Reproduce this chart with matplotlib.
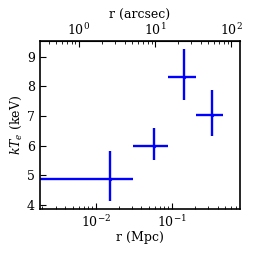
import numpy as np
import matplotlib
matplotlib.use("Agg")
import matplotlib.pyplot as plt
from matplotlib.ticker import LogLocator, NullFormatter

plt.rcParams['font.family'] = 'DejaVu Serif'
plt.rcParams['mathtext.fontset'] = 'dejavuserif'
plt.rcParams['font.size'] = 9

# radial bins (Mpc) and temperatures (keV)
r_mid = [0.0154, 0.059, 0.147, 0.336]
r_lo = [0.001, 0.0313, 0.088, 0.207]
r_hi = [0.0313, 0.088, 0.207, 0.468]
kT = [4.89, 5.99, 8.32, 7.03]
kT_up = [5.82, 6.59, 9.26, 7.88]
kT_dn = [4.14, 5.52, 7.55, 6.33]

mpc_per_arcsec = 0.00603

r_mid = np.array(r_mid)
kT = np.array(kT)
xerr = [r_mid - np.array(r_lo), np.array(r_hi) - r_mid]
yerr = [kT - np.array(kT_dn), np.array(kT_up) - kT]

fig = plt.figure(figsize=(2.54, 2.54), dpi=100)
ax = fig.add_axes([0.157, 0.177, 0.788, 0.662])
ax.errorbar(r_mid, kT, xerr=xerr, yerr=yerr, fmt='.', color='blue',
            ms=3, lw=1.7, capsize=0)
ax.set_xscale('log')
ax.set_xlim(0.00185, 0.79)
ax.set_ylim(3.86, 9.54)
ax.set_xticks([0.01, 0.1])
ax.set_yticks([4, 5, 6, 7, 8, 9])
ax.set_xlabel('r (Mpc)', labelpad=1)
ax.set_ylabel(r'$kT_e$ (keV)', labelpad=2)
ax.tick_params(axis='x', which='both', direction='in')
ax.tick_params(axis='y', direction='in', right=False)
ax.tick_params(which='major', length=4)
ax.tick_params(which='minor', length=2)
for s in ax.spines.values():
    s.set_linewidth(1.2)

sec = ax.secondary_xaxis('top', functions=(lambda x: x / mpc_per_arcsec,
                                           lambda x: x * mpc_per_arcsec))
sec.set_xticks([1, 10, 100])
sec.xaxis.set_minor_locator(LogLocator(base=10, subs=np.arange(2, 10)))
sec.xaxis.set_minor_formatter(NullFormatter())
sec.set_xlabel('r (arcsec)', labelpad=2)
sec.tick_params(which='both', direction='in')
sec.tick_params(which='major', length=4, pad=2)
sec.tick_params(which='minor', length=2)

fig.savefig('out.png', dpi=100)
